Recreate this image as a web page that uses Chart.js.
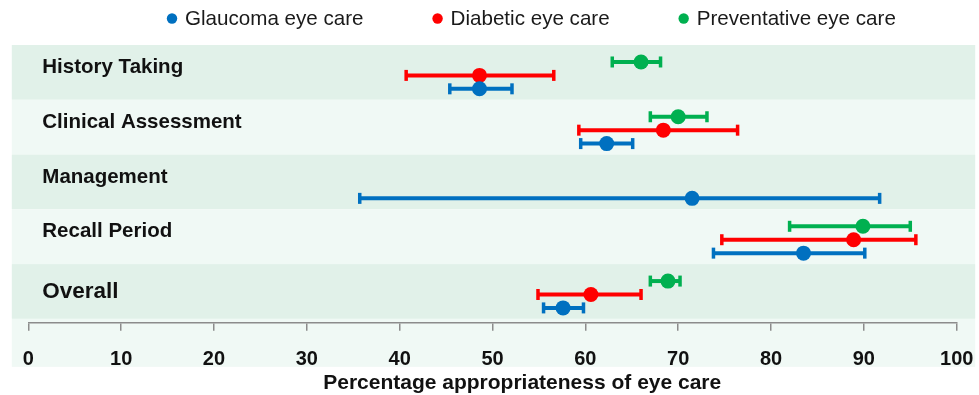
<!DOCTYPE html>
<html>
<head>
<meta charset="utf-8">
<script src="https://cdn.jsdelivr.net/npm/chart.js@4"></script>
<style>
  html, body { margin: 0; padding: 0; background: #ffffff; }
  #wrap { width: 979px; height: 395px; position: relative; }
</style>
</head>
<body>
<div id="wrap"><canvas id="chart"></canvas></div>
<script>
// Domains, top to bottom
const categories = ['History Taking', 'Clinical Assessment', 'Management', 'Recall Period', 'Overall'];
const seriesNames = ['Glaucoma eye care', 'Diabetic eye care', 'Preventative eye care'];
const xTitle = 'Percentage appropriateness of eye care';

// Mean percentage with lower / upper interval bounds (null = not assessed)
const glaucomaMean = [48.6, 62.3, 71.5, 83.5, 57.6];
const glaucomaLow  = [45.4, 59.5, 35.7, 73.8, 55.5];
const glaucomaHigh = [52.1, 65.1, 91.7, 90.1, 59.8];

const diabeticMean = [48.6, 68.4, null, 88.9, 60.6];
const diabeticLow  = [40.7, 59.3, null, 74.7, 54.9];
const diabeticHigh = [56.6, 76.4, null, 95.6, 66.0];

const preventMean = [66.0, 70.0, null, 89.9, 68.9];
const preventLow  = [62.9, 67.0, null, 82.0, 67.0];
const preventHigh = [68.1, 73.1, null, 95.0, 70.2];

const xTicks = [0, 10, 20, 30, 40, 50, 60, 70, 80, 90, 100];

// Styling
const colors = ['#0070C0', '#FF0000', '#00B050'];
const rowOffsets = [0.30, 0.055, -0.19];   // vertical placement of each series inside a band
const bandDark = '#E1F1E9';
const bandLight = '#F0F9F5';
const FONT = '"Liberation Sans", Arial, sans-serif';

function buildPoints(mean, low, high, s) {
  const pts = [];
  mean.forEach((m, i) => {
    if (m === null) return;
    pts.push({ x: m, y: i + rowOffsets[s], lo: low[i], hi: high[i] });
  });
  return pts;
}

const series = [
  buildPoints(glaucomaMean, glaucomaLow, glaucomaHigh, 0),
  buildPoints(diabeticMean, diabeticLow, diabeticHigh, 1),
  buildPoints(preventMean, preventLow, preventHigh, 2)
];

// Alternating green bands behind each domain row and under the axis
const bandPlugin = {
  id: 'bands',
  beforeDraw(chart) {
    const { ctx, scales: { x, y } } = chart;
    const left = x.getPixelForValue(0) - 16.5;
    const right = x.getPixelForValue(100) + 18.5;
    ctx.save();
    categories.forEach((c, i) => {
      const top = y.getPixelForValue(i - 0.5);
      const bottom = y.getPixelForValue(i + 0.5);
      ctx.fillStyle = i % 2 === 0 ? bandDark : bandLight;
      ctx.fillRect(left, top, right - left, bottom - top);
    });
    const last = y.getPixelForValue(categories.length - 0.5);
    ctx.fillStyle = bandLight;
    ctx.fillRect(left, last, right - left, 48);
    ctx.restore();
  }
};

// Interval whiskers with end caps, drawn under the mean markers
const errorBarPlugin = {
  id: 'errorBars',
  beforeDatasetsDraw(chart) {
    const { ctx, scales: { x } } = chart;
    ctx.save();
    chart.data.datasets.forEach((ds, di) => {
      const meta = chart.getDatasetMeta(di);
      ds.data.forEach((p, j) => {
        const el = meta.data[j];
        if (!el) return;
        const py = el.y;
        const x0 = x.getPixelForValue(p.lo);
        const x1 = x.getPixelForValue(p.hi);
        ctx.strokeStyle = ds.borderColor;
        ctx.lineWidth = 4;
        ctx.lineCap = 'butt';
        ctx.beginPath();
        ctx.moveTo(x0, py);
        ctx.lineTo(x1, py);
        ctx.stroke();
        ctx.fillStyle = ds.borderColor;
        ctx.fillRect(x0 - 1.75, py - 5.5, 3.5, 11);
        ctx.fillRect(x1 - 1.75, py - 5.5, 3.5, 11);
      });
    });
    ctx.restore();
  }
};

// Domain names written inside each band
const rowLabelPlugin = {
  id: 'rowLabels',
  afterDatasetsDraw(chart) {
    const { ctx, scales: { x, y } } = chart;
    ctx.save();
    ctx.fillStyle = '#111111';
    ctx.textBaseline = 'middle';
    ctx.textAlign = 'left';
    const lx = x.getPixelForValue(0) + 14;
    categories.forEach((c, i) => {
      const summary = i === categories.length - 1;
      ctx.font = 'bold ' + (summary ? 22.5 : 20.5) + 'px ' + FONT;
      const cy = y.getPixelForValue(i) + (summary ? 0 : -5);
      ctx.fillText(c, lx, cy);
    });
    ctx.restore();
  }
};

// Legend row across the top and the axis caption underneath
const textPlugin = {
  id: 'legendAndCaption',
  afterDraw(chart) {
    const { ctx, scales: { x } } = chart;
    ctx.save();
    ctx.font = '20.6px ' + FONT;
    ctx.textBaseline = 'middle';
    ctx.textAlign = 'left';
    let cx = 167;
    const cy = 18.5;
    seriesNames.forEach((name, i) => {
      ctx.fillStyle = colors[i];
      ctx.beginPath();
      ctx.arc(cx + 5, cy, 5.2, 0, Math.PI * 2);
      ctx.fill();
      ctx.fillStyle = '#1a1a1a';
      const tx = cx + 18;
      ctx.fillText(name, tx, cy + 0.5);
      cx = tx + ctx.measureText(name).width + 69;
    });

    ctx.font = 'bold 21px ' + FONT;
    ctx.fillStyle = '#111111';
    ctx.textAlign = 'center';
    ctx.fillText(xTitle, x.getPixelForValue(53.2), 383);
    ctx.restore();
  }
};

new Chart(document.getElementById('chart'), {
  type: 'scatter',
  data: {
    datasets: series.map((pts, s) => ({
      label: seriesNames[s],
      data: pts,
      backgroundColor: colors[s],
      borderColor: colors[s],
      pointRadius: 7.5,
      pointHoverRadius: 7.5,
      pointBorderWidth: 0
    }))
  },
  options: {
    responsive: true,
    maintainAspectRatio: false,
    animation: false,
    layout: { padding: { top: 45, left: 28.3, right: 22.3, bottom: 0 } },
    plugins: {
      legend: { display: false },
      tooltip: { enabled: false }
    },
    scales: {
      y: {
        type: 'linear',
        display: false,
        reverse: true,
        min: -0.5,
        max: 4.57
      },
      x: {
        type: 'linear',
        min: 0,
        max: 100,
        afterBuildTicks: (s) => { s.ticks = xTicks.map(v => ({ value: v })); },
        afterFit: (s) => {
          s.height = 72.3;
          s.paddingLeft = 0;
          s.paddingRight = 0;
        },
        grid: {
          drawOnChartArea: false,
          drawTicks: true,
          tickLength: 8,
          color: '#8c8c8c',
          lineWidth: 1.5
        },
        border: { display: true, color: '#8c8c8c', width: 1.5 },
        ticks: {
          color: '#111111',
          padding: 17,
          maxRotation: 0,
          font: { family: FONT, size: 20, weight: 'bold' }
        },
        title: { display: false }
      }
    }
  },
  plugins: [bandPlugin, errorBarPlugin, rowLabelPlugin, textPlugin]
});
</script>
</body>
</html>
